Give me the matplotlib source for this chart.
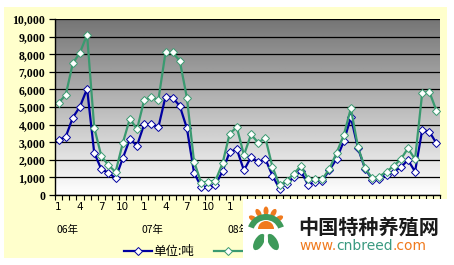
import numpy as np
import matplotlib
matplotlib.use("Agg")
import matplotlib.pyplot as plt
from matplotlib.patches import Rectangle, Ellipse, Wedge
from matplotlib.ticker import FuncFormatter

# ---- data (monthly, Jan 2006 .. Jun 2010) ----
month_labels = ["1", "4", "7", "10"]
year_labels = ["06年", "07年", "08年"]
series1_name = "单位:吨"
series2_name = ""
series1 = [3130, 3300, 4400, 5020, 6040, 2400, 1460, 1270, 950, 2080, 3180, 2800,
           4010, 4030, 3850, 5590, 5530, 5060, 3790, 1270, 470, 470, 570, 1350,
           2450, 2600, 1400, 2160, 1870, 2050, 1100, 350, 650, 1000, 1350, 570,
           760, 820, 1420, 2050, 3050, 4410, 2650, 1480, 880, 900, 1140, 1330,
           1570, 1990, 1330, 3690, 3600, 2940]
series2 = [5240, 5680, 7480, 8090, 9110, 3830, 2210, 1690, 1310, 2940, 4340, 3730,
           5380, 5570, 5400, 8100, 8100, 7620, 5530, 1900, 700, 760, 810, 1800,
           3490, 3850, 2270, 3440, 2970, 3250, 1600, 550, 800, 1220, 1650, 900,
           900, 900, 1500, 2400, 3400, 4920, 2710, 1510, 950, 1050, 1330, 1650,
           2030, 2650, 2030, 5780, 5870, 4790]

W, H = 454, 265
fig = plt.figure(figsize=(W / 100, H / 100), dpi=100)
fig.patch.set_facecolor("white")

def fx(x):
    return x / W

def fy(y):
    return 1 - y / H

# chart area background
fig.patches.append(Rectangle((fx(4), fy(258)), fx(447) - fx(4), fy(7) - fy(258),
                             transform=fig.transFigure, facecolor="#FFFFCC",
                             edgecolor="none", zorder=-5))

left, right, top, bottom = 55, 440, 19, 195
ax = fig.add_axes([fx(left), fy(bottom), fx(right) - fx(left), fy(top) - fy(bottom)])
ax.patch.set_alpha(0)

n = len(series1)
x = np.arange(n)

# gradient plot area
grad = np.linspace(0.46, 1.0, 256).reshape(-1, 1)
ax.imshow(grad, extent=(0, 1, 0, 1), transform=ax.transAxes, aspect="auto",
          cmap="gray", vmin=0, vmax=1, zorder=0, interpolation="bilinear")

for v in range(0, 10001, 1000):
    ax.axhline(v, color="black", lw=0.9, zorder=1)

blue = "#0000A0"
green = "#3A9A70"
l1, = ax.plot(x, series1, color=blue, lw=1.6, marker="D", markersize=4.3,
              markerfacecolor="white", markeredgecolor=blue, markeredgewidth=0.7,
              zorder=3, label=series1_name)
l2, = ax.plot(x, series2, color=green, lw=1.6, marker="D", markersize=4.3,
              markerfacecolor="white", markeredgecolor=green, markeredgewidth=0.7,
              zorder=4, label=series2_name)

ax.set_xlim(-0.5, n - 0.5)
ax.set_ylim(0, 10000)

for s in ["top", "right"]:
    ax.spines[s].set_visible(False)
for s in ["left", "bottom"]:
    ax.spines[s].set_color("black")
    ax.spines[s].set_linewidth(1.0)
    ax.spines[s].set_zorder(5)

ax.set_yticks(range(0, 10001, 1000))
ax.yaxis.set_major_formatter(FuncFormatter(lambda v, p: f"{int(v):,}"))
ax.tick_params(axis="y", direction="out", length=4, width=0.9, pad=3,
               labelsize=8.5, colors="black")
for t in ax.get_yticklabels():
    t.set_fontfamily("Liberation Serif")
    t.set_fontweight("bold")

major = list(range(0, n, 3))
ax.set_xticks(major)
ax.set_xticklabels([month_labels[(i % 12) // 3] for i in major],
                   fontfamily="DejaVu Sans", fontsize=7.5)
ax.set_xticks(np.arange(-0.5, n, 1.0), minor=True)
ax.tick_params(axis="x", which="major", length=0, pad=5)
ax.tick_params(axis="x", which="minor", direction="out", length=3.5, width=0.8)

# year labels
for k, yl in enumerate(year_labels):
    xi = 12 * k - 0.3
    ax.text(xi, -0.2, yl, transform=ax.get_xaxis_transform(), ha="left",
            va="center", fontsize=7.5, family=["Noto Sans CJK SC", "DejaVu Sans"])

leg = ax.legend(handles=[l1, l2], labels=[series1_name, series2_name], ncol=2,
                loc="center left", bbox_to_anchor=(fx(124), fy(252)),
                bbox_transform=fig.transFigure, frameon=False, borderpad=0,
                borderaxespad=0, handlelength=2.25, handletextpad=0.1,
                columnspacing=1.6, prop={"family": ["Noto Sans CJK SC", "DejaVu Sans"], "size": 9})

# watermark overlay
ov = fig.add_axes([0, 0, 1, 1], zorder=10)
ov.set_xlim(0, W)
ov.set_ylim(H, 0)
ov.axis("off")
ov.patch.set_alpha(0)
ov.add_patch(Rectangle((243, 199), W - 243, H - 199, facecolor="white", edgecolor="none"))
orange = "#F07A1E"
lgreen = "#3E9A5A"
for ang in [150, 120, 90, 60, 30]:
    r = np.deg2rad(ang)
    cx, cy = 266 + 15 * np.cos(r), 226 - 15 * np.sin(r)
    ov.add_patch(Ellipse((cx, cy), 5, 9, angle=90 - ang, facecolor=orange, edgecolor="none"))
ov.add_patch(Wedge((266, 229), 8, 180, 360, facecolor=orange, edgecolor="none"))
ov.add_patch(Wedge((266, 233), 19, 200, 340, width=6, facecolor=lgreen, edgecolor="none"))
ov.add_patch(Ellipse((259, 242), 9, 18, angle=30, facecolor=lgreen, edgecolor="none"))
ov.add_patch(Ellipse((273, 242), 9, 18, angle=-30, facecolor=lgreen, edgecolor="none"))
ov.add_patch(Ellipse((266, 240), 4, 16, facecolor="white", edgecolor="none"))
ov.text(298, 227, "中国特种养殖网", fontsize=14.5, fontweight="bold", color="#1a1a1a",
        family=["Noto Sans CJK SC"], ha="left", va="center")
t1 = ov.text(299, 246, "www.", fontsize=10, color=orange, family="DejaVu Sans",
             ha="left", va="center")
t2 = ov.annotate("cnbreed", xy=(1, 0), xycoords=t1, fontsize=10, color="#3A9A80",
                 family="DejaVu Sans", ha="left", va="bottom")
ov.annotate(".com", xy=(1, 0), xycoords=t2, fontsize=10, color=orange,
            family="DejaVu Sans", ha="left", va="bottom")

fig.savefig("out.png", dpi=100, facecolor="white")
